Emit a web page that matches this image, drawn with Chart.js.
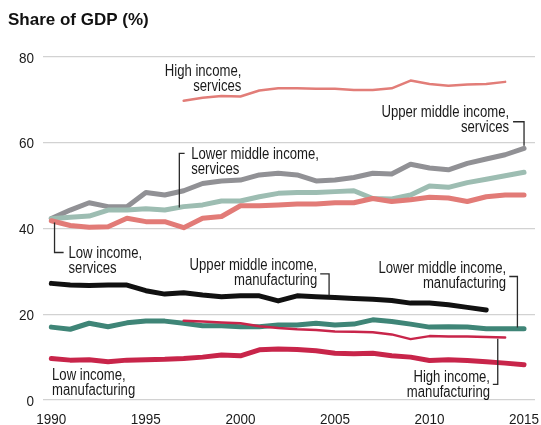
<!DOCTYPE html>
<html>
<head>
<meta charset="utf-8">
<script src="https://cdn.jsdelivr.net/npm/chart.js@4/dist/chart.umd.min.js"></script>
<style>
    html, body { margin: 0; padding: 0; background: #fff; }
    #wrap { width: 541px; height: 425px; }
</style>
</head>
<body>
<div id="wrap"><canvas id="gdpChart" width="541" height="425"></canvas></div>
<script>
// values, share of GDP in %
const years = [1990, 1991, 1992, 1993, 1994, 1995, 1996, 1997, 1998, 1999, 2000, 2001, 2002,
    2003, 2004, 2005, 2006, 2007, 2008, 2009, 2010, 2011, 2012, 2013, 2014, 2015];

const upperMidServices = [42.3, 44.3, 46.0, 45.1, 45.1, 48.4, 47.8, 48.8, 50.5, 51.1, 51.3, 52.5, 52.9,
    52.5, 51.1, 51.3, 51.9, 52.9, 52.7, 55.0, 54.1, 53.7, 55.2, 56.2, 57.2, 58.7];
const lowerMidServices = [42.3, 42.6, 42.9, 44.3, 44.3, 44.6, 44.3, 45.1, 45.5, 46.4, 46.4, 47.4, 48.2,
    48.4, 48.4, 48.6, 48.8, 47.0, 46.9, 47.8, 49.9, 49.6, 50.7, 51.5, 52.3, 53.1];
const lowServices = [41.8, 40.7, 40.3, 40.4, 42.4, 41.6, 41.6, 40.2, 42.4, 42.8, 45.3, 45.3, 45.5,
    45.7, 45.7, 46.0, 46.0, 47.0, 46.3, 46.7, 47.3, 47.1, 46.3, 47.4, 47.8, 47.8];
const highServices = [null, null, null, null, null, null, null, 69.8, 70.5, 70.9, 70.8, 72.2, 72.7,
    72.7, 72.6, 72.6, 72.3, 72.3, 72.7, 74.5, 73.7, 73.3, 73.6, 73.7, 74.2, null];

const upperMidManuf = [27.2, 26.8, 26.7, 26.8, 26.8, 25.5, 24.7, 25.0, 24.5, 24.1, 24.3, 24.3, 23.1,
    24.3, 24.1, 23.9, 23.7, 23.5, 23.2, 22.6, 22.6, 22.2, 21.6, 21.0, null, null];
const lowerMidManuf = [17.0, 16.5, 17.9, 17.1, 18.0, 18.4, 18.4, 17.9, 17.3, 17.3, 17.1, 17.1, 17.5,
    17.5, 17.9, 17.5, 17.7, 18.7, 18.3, 17.7, 17.0, 17.1, 17.0, 16.6, 16.6, 16.6];
const highManuf = [null, null, null, null, null, null, null, 18.5, 18.3, 18.1, 17.9, 17.2, 16.8,
    16.5, 16.3, 16.0, 15.9, 15.8, 15.3, 14.2, 14.9, 14.8, 14.8, 14.7, 14.6, null];
const lowManuf = [9.7, 9.3, 9.4, 8.9, 9.3, 9.4, 9.5, 9.7, 10.0, 10.5, 10.3, 11.7, 11.9,
    11.8, 11.5, 10.9, 10.8, 10.9, 10.3, 10.0, 9.2, 9.4, 9.2, 8.9, 8.6, 8.2];

const xTicks = [1990, 1995, 2000, 2005, 2010, 2015];
const yTicks = [0, 20, 40, 60, 80];

const FONT = "'Liberation Sans', Arial, sans-serif";
const TEXT = "#1a1a1a";

// labels: first baseline anchored in data units, leader lines too
const notes = [
    { lines: ["High income,", "services"], x: 2000.05, y: 75.6, align: "right" },
    { lines: ["Upper middle income,", "services"], x: 2014.21, y: 66.0, align: "right",
      leader: [[2014.42, 64.9], [2015.0, 64.9], [2015.0, 59.3]] },
    { lines: ["Lower middle income,", "services"], x: 1997.4, y: 56.1, align: "left",
      leader: [[1997.05, 57.5], [1996.77, 57.5], [1996.77, 44.9]] },
    { lines: ["Low income,", "services"], x: 1990.91, y: 33.05, align: "left",
      leader: [[1990.17, 41.4], [1990.17, 34.4], [1990.65, 34.4]] },
    { lines: ["Upper middle income,", "manufacturing"], x: 2004.06, y: 30.3, align: "right",
      leader: [[2004.22, 29.4], [2004.69, 29.4], [2004.69, 24.4]] },
    { lines: ["Lower middle income,", "manufacturing"], x: 2014.05, y: 29.7, align: "right",
      leader: [[2014.22, 28.8], [2014.65, 28.8], [2014.65, 16.9]] },
    { lines: ["High income,", "manufacturing"], x: 2013.2, y: 4.27, align: "right",
      leader: [[2013.61, 14.3], [2013.61, 3.66], [2013.35, 3.66]] },
    { lines: ["Low income,", "manufacturing"], x: 1990.04, y: 4.66, align: "left" }
];

function series(values) {
    return years.map((yr, i) => ({ x: yr, y: values[i] }));
}

function line(label, values, color, width, order) {
    return {
        label: label,
        data: series(values),
        borderColor: color,
        backgroundColor: color,
        borderWidth: width,
        borderCapStyle: 'round',
        borderJoinStyle: 'round',
        pointRadius: 0,
        tension: 0,
        spanGaps: false,
        fill: false,
        order: order
    };
}

// no narrow font installed: squeeze text horizontally
function narrowText(ctx, text, x, y, align, squeeze) {
    ctx.save();
    ctx.translate(x, y);
    ctx.scale(squeeze, 1);
    ctx.textAlign = align;
    ctx.fillText(text, 0, 0);
    ctx.restore();
}

const textPlugin = {
    id: 'texts',
    afterDatasetsDraw(chart) {
        const ctx = chart.ctx;
        const xs = chart.scales.x, ys = chart.scales.y;
        ctx.save();
        ctx.textBaseline = 'alphabetic';

        // tick labels
        ctx.fillStyle = TEXT;
        ctx.font = "15px " + FONT;
        ys.ticks.forEach(t => {
            narrowText(ctx, String(t.value), 34, ys.getPixelForValue(t.value) + 5.5, 'right', 0.9);
        });
        xs.ticks.forEach(t => {
            narrowText(ctx, String(t.value), xs.getPixelForValue(t.value), 423.5, 'center', 0.9);
        });

        // annotations
        notes.forEach(n => {
            if (n.leader) {
                ctx.strokeStyle = "#2a2a2a";
                ctx.lineWidth = 1.3;
                ctx.beginPath();
                n.leader.forEach((p, i) => {
                    const px = xs.getPixelForValue(p[0]), py = ys.getPixelForValue(p[1]);
                    if (i === 0) ctx.moveTo(px, py); else ctx.lineTo(px, py);
                });
                ctx.stroke();
            }
            ctx.fillStyle = TEXT;
            ctx.font = "16px " + FONT;
            const px = xs.getPixelForValue(n.x), py = ys.getPixelForValue(n.y);
            n.lines.forEach((t, i) => narrowText(ctx, t, px, py + i * 15, n.align, 0.82));
        });

        // title
        ctx.fillStyle = "#111";
        ctx.font = "bold 17px " + FONT;
        ctx.textAlign = 'left';
        ctx.fillText("Share of GDP (%)", 8, 25);
        ctx.restore();
    }
};

const ctx = document.getElementById('gdpChart').getContext('2d');
new Chart(ctx, {
    type: 'line',
    data: {
        datasets: [
            line("High income, services", highServices, "#e27d78", 2.5, 8),
            line("Upper middle income, services", upperMidServices, "#919195", 5, 7),
            line("Lower middle income, services", lowerMidServices, "#9dbdb2", 5, 6),
            line("Low income, services", lowServices, "#e27b77", 5, 5),
            line("Upper middle income, manufacturing", upperMidManuf, "#111111", 5, 4),
            line("High income, manufacturing", highManuf, "#c8254a", 2.5, 2),
            line("Lower middle income, manufacturing", lowerMidManuf, "#3f8577", 5, 3),
            line("Low income, manufacturing", lowManuf, "#c8254a", 5, 1)
        ]
    },
    options: {
        responsive: false,
        animation: false,
        layout: { padding: { top: 57, right: 6, bottom: 0, left: 0 } },
        plugins: {
            legend: { display: false },
            tooltip: { enabled: false },
            title: { display: false }
        },
        scales: {
            x: {
                type: 'linear',
                min: 1989.56,
                max: 2015.58,
                afterBuildTicks: s => { s.ticks = xTicks.map(v => ({ value: v })); },
                afterFit: s => { s.height = 25; s.paddingLeft = 0; s.paddingRight = 0; },
                grid: { display: false, drawTicks: false },
                border: { display: false },
                ticks: { display: false }
            },
            y: {
                min: 0,
                max: 80,
                afterBuildTicks: s => { s.ticks = yTicks.map(v => ({ value: v })); },
                afterFit: s => { s.width = 43; s.paddingTop = 0; s.paddingBottom = 0; },
                grid: { color: "#d2d2d2", lineWidth: 1.3, drawTicks: false },
                border: { display: false },
                ticks: { display: false }
            }
        }
    },
    plugins: [textPlugin]
});
</script>
</body>
</html>
